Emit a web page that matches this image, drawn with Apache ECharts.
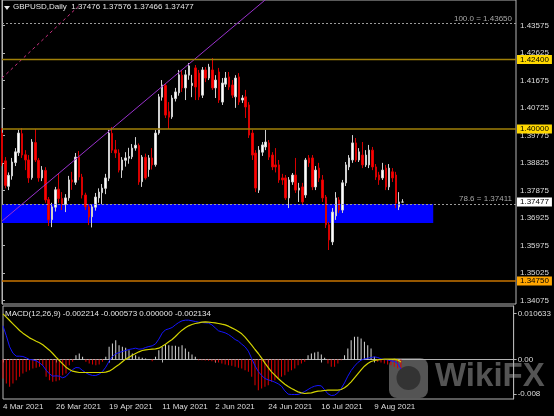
<!DOCTYPE html>
<html><head><meta charset="utf-8">
<script src="https://cdn.jsdelivr.net/npm/echarts@6/dist/echarts.min.js"></script>
<style>html,body{margin:0;padding:0;background:#000;}#c{width:554px;height:416px;}</style>
</head><body><div id="c"></div>
<script>
// ---- data ----
const START_DATE = [2021, 2, 4];       // 4 Mar 2021 (first bar)
const TOTAL_SLOTS = 155;               // bars + empty space to the right
const LABEL_INDEXES = [0, 16, 32, 48, 64, 80, 96, 112];

const opens = [
1.3986,1.3890,1.3802,1.3838,1.3884,1.3918,1.3984,1.3911,1.3893,1.3832,
1.3953,1.3892,1.3831,1.3857,1.3756,1.3687,1.3730,1.3792,1.3760,1.3739,
1.3762,1.3824,1.3816,1.3903,1.3834,1.3772,1.3731,1.3697,1.3730,1.3762,
1.3780,1.3795,1.3830,1.3985,1.3928,1.3917,1.3858,1.3892,1.3899,1.3904,
1.3934,1.3943,1.3818,1.3902,1.3860,1.3900,1.3877,1.3986,1.4110,1.4150,
1.4060,1.4042,1.4105,1.4125,1.4186,1.4142,1.4186,1.4150,1.4211,1.4193,
1.4117,1.4204,1.4176,1.4204,1.4142,1.4197,1.4093,1.4155,1.4180,1.4152,
1.4111,1.4180,1.4100,1.4111,1.4083,1.3986,1.3917,1.3789,1.3920,1.3938,
1.3952,1.3910,1.3876,1.3876,1.3831,1.3831,1.3762,1.3817,1.3841,1.3789,
1.3800,1.3772,1.3900,1.3900,1.3800,1.3865,1.3824,1.3765,1.3669,1.3610,
1.3700,1.3755,1.3720,1.3814,1.3869,1.3893,1.3952,1.3893,1.3910,1.3876,
1.3876,1.3927,1.3869,1.3841,1.3831,1.3865,1.3800,1.3852,1.3841,1.3731,
1.37476];
const highs = [
1.4003,1.3903,1.3850,1.3900,1.3934,1.3997,1.4003,1.3927,1.3910,1.3965,
1.4000,1.3900,1.3872,1.3868,1.3765,1.3745,1.3800,1.3845,1.3782,1.3775,
1.3838,1.3852,1.3917,1.3924,1.3845,1.3780,1.3740,1.3740,1.3779,1.3795,
1.3810,1.3845,1.3997,1.4007,1.3962,1.3930,1.3903,1.3920,1.3935,1.3948,
1.3972,1.3950,1.3910,1.3915,1.3910,1.3934,1.3997,1.4121,1.4169,1.4156,
1.4093,1.4117,1.4142,1.4204,1.4204,1.4204,1.4228,1.4187,1.4221,1.4204,
1.4214,1.4214,1.4225,1.4245,1.4186,1.4211,1.4176,1.4197,1.4197,1.4169,
1.4186,1.4193,1.4117,1.4135,1.4093,1.3997,1.3927,1.3941,1.3955,1.3997,
1.3962,1.3920,1.3934,1.3893,1.3845,1.3841,1.3834,1.3848,1.3900,1.3814,
1.3814,1.3900,1.3910,1.3910,1.3872,1.3883,1.3841,1.3772,1.3679,1.3727,
1.3782,1.3765,1.3824,1.3886,1.3910,1.3979,1.3969,1.3934,1.3955,1.3927,
1.3945,1.3938,1.3879,1.3852,1.3883,1.3876,1.3879,1.3865,1.3852,1.3782,
1.37576];
const lows = [
1.3872,1.3795,1.3789,1.3825,1.3872,1.3907,1.3900,1.3858,1.3814,1.3825,
1.3886,1.3818,1.3820,1.3745,1.3665,1.3661,1.3715,1.3745,1.3720,1.3713,
1.3752,1.3790,1.3807,1.3823,1.3760,1.3720,1.3668,1.3660,1.3718,1.3745,
1.3740,1.3775,1.3820,1.3917,1.3900,1.3850,1.3831,1.3870,1.3880,1.3896,
1.3925,1.3807,1.3800,1.3825,1.3835,1.3860,1.3870,1.3980,1.4098,1.4038,
1.4000,1.4035,1.4095,1.4115,1.4128,1.4100,1.4170,1.4110,1.4100,1.4100,
1.4107,1.4162,1.4169,1.4135,1.4107,1.4090,1.4083,1.4145,1.4135,1.4107,
1.4073,1.4083,1.4090,1.4038,1.3969,1.3893,1.3782,1.3779,1.3907,1.3927,
1.3893,1.3858,1.3850,1.3814,1.3807,1.3755,1.3727,1.3807,1.3779,1.3748,
1.3737,1.3762,1.3869,1.3789,1.3789,1.3817,1.3748,1.3658,1.3582,1.3599,
1.3686,1.3710,1.3710,1.3803,1.3858,1.3883,1.3886,1.3886,1.3865,1.3869,
1.3865,1.3858,1.3824,1.3807,1.3824,1.3789,1.3789,1.3817,1.3727,1.3720,
1.37466];
const closes = [
1.3883,1.3805,1.3840,1.3886,1.3921,1.3986,1.3910,1.3893,1.3831,1.3955,
1.3893,1.3831,1.3858,1.3755,1.3686,1.3731,1.3790,1.3760,1.3740,1.3762,
1.3824,1.3817,1.3903,1.3834,1.3772,1.3731,1.3696,1.3731,1.3765,1.3782,
1.3796,1.3831,1.3986,1.3927,1.3917,1.3858,1.3893,1.3900,1.3905,1.3934,
1.3944,1.3817,1.3903,1.3831,1.3900,1.3876,1.3986,1.4111,1.4152,1.4048,
1.4041,1.4107,1.4128,1.4187,1.4142,1.4187,1.4218,1.4158,1.4145,1.4111,
1.4204,1.4176,1.4214,1.4142,1.4169,1.4100,1.4159,1.4176,1.4145,1.4117,
1.4176,1.4093,1.4107,1.4076,1.3979,1.3910,1.3796,1.3927,1.3945,1.3955,
1.3903,1.3869,1.3869,1.3824,1.3824,1.3762,1.3824,1.3841,1.3789,1.3796,
1.3748,1.3893,1.3883,1.3800,1.3858,1.3831,1.3762,1.3669,1.3617,1.3713,
1.3762,1.3720,1.3814,1.3876,1.3900,1.3952,1.3893,1.3921,1.3876,1.3910,
1.3927,1.3869,1.3834,1.3824,1.3858,1.3800,1.3865,1.3831,1.3744,1.3748,
1.37477];

const macdMain = [
0.00781,0.00549,0.00294,0.00147,0.00077,0.00077,0.00070,0.00039,0.00000,-0.00008,
-0.00031,-0.00077,-0.00139,-0.00247,-0.00332,-0.00386,-0.00379,-0.00386,-0.00425,-0.00394,
-0.00309,-0.00232,-0.00186,-0.00193,-0.00255,-0.00309,-0.00348,-0.00371,-0.00371,-0.00340,
-0.00278,-0.00178,-0.00039,0.00070,0.00131,0.00162,0.00186,0.00209,0.00232,0.00247,
0.00263,0.00240,0.00247,0.00278,0.00301,0.00317,0.00363,0.00472,0.00611,0.00688,
0.00711,0.00742,0.00804,0.00858,0.00897,0.00912,0.00912,0.00897,0.00881,0.00866,
0.00858,0.00850,0.00843,0.00804,0.00734,0.00665,0.00642,0.00618,0.00580,0.00526,
0.00464,0.00425,0.00356,0.00294,0.00193,0.00023,-0.00147,-0.00278,-0.00371,-0.00441,
-0.00472,-0.00495,-0.00526,-0.00564,-0.00618,-0.00727,-0.00804,-0.00812,-0.00812,-0.00812,
-0.00781,-0.00742,-0.00696,-0.00649,-0.00618,-0.00603,-0.00611,-0.00703,-0.00796,-0.00835,
-0.00827,-0.00773,-0.00673,-0.00541,-0.00386,-0.00255,-0.00155,-0.00070,-0.00015,0.00015,
0.00031,0.00046,0.00062,0.00046,0.00015,0.00000,-0.00008,-0.00031,-0.00046,-0.00085,
-0.00221];
const macdSignal = [
0.01059,0.00982,0.00904,0.00827,0.00750,0.00673,0.00611,0.00557,0.00502,0.00464,
0.00425,0.00387,0.00340,0.00278,0.00216,0.00139,0.00054,-0.00023,-0.00100,-0.00178,
-0.00232,-0.00271,-0.00286,-0.00301,-0.00301,-0.00301,-0.00301,-0.00301,-0.00301,-0.00301,
-0.00301,-0.00294,-0.00271,-0.00224,-0.00170,-0.00116,-0.00054,0.00008,0.00054,0.00100,
0.00139,0.00178,0.00209,0.00224,0.00232,0.00240,0.00247,0.00263,0.00309,0.00356,
0.00410,0.00464,0.00533,0.00611,0.00680,0.00734,0.00781,0.00812,0.00835,0.00850,
0.00866,0.00874,0.00866,0.00858,0.00850,0.00835,0.00819,0.00804,0.00773,0.00734,
0.00696,0.00649,0.00595,0.00518,0.00425,0.00332,0.00232,0.00139,0.00031,-0.00085,
-0.00186,-0.00286,-0.00363,-0.00441,-0.00510,-0.00572,-0.00626,-0.00673,-0.00711,-0.00750,
-0.00773,-0.00789,-0.00781,-0.00773,-0.00750,-0.00734,-0.00727,-0.00719,-0.00711,-0.00711,
-0.00711,-0.00711,-0.00696,-0.00657,-0.00595,-0.00518,-0.00425,-0.00332,-0.00240,-0.00155,
-0.00093,-0.00046,-0.00023,-0.00008,0.00000,0.00008,0.00008,0.00008,0.00008,-0.00008,
-0.00057];
const macdHist = [
-0.00441,-0.00557,-0.00634,-0.00557,-0.00479,-0.00402,-0.00325,-0.00286,-0.00247,-0.00209,
-0.00193,-0.00170,-0.00147,-0.00402,-0.00479,-0.00518,-0.00502,-0.00479,-0.00363,-0.00325,
-0.00131,-0.00054,0.00100,0.00139,0.00062,-0.00054,-0.00093,-0.00116,-0.00131,-0.00116,
-0.00054,0.00062,0.00294,0.00371,0.00448,0.00332,0.00294,0.00271,0.00216,0.00139,
0.00100,0.00062,0.00039,0.00023,0.00008,-0.00039,0.00062,0.00216,0.00294,0.00348,
0.00332,0.00317,0.00317,0.00294,0.00332,0.00255,0.00178,0.00116,0.00062,-0.00015,
-0.00015,-0.00023,-0.00031,-0.00039,-0.00054,-0.00070,-0.00093,-0.00116,-0.00131,-0.00147,
-0.00170,-0.00193,-0.00209,-0.00247,-0.00286,-0.00402,-0.00595,-0.00711,-0.00673,-0.00634,
-0.00595,-0.00518,-0.00479,-0.00441,-0.00402,-0.00363,-0.00286,-0.00247,-0.00209,-0.00131,
-0.00093,-0.00054,0.00100,0.00139,0.00162,0.00178,0.00116,0.00039,-0.00093,-0.00170,
-0.00170,-0.00093,-0.00015,0.00100,0.00255,0.00448,0.00526,0.00526,0.00487,0.00410,
0.00332,0.00255,0.00062,-0.00054,-0.00070,-0.00093,-0.00116,-0.00131,-0.00170,-0.00209,
-0.00213];

const priceTicks = [1.43575,1.42625,1.41675,1.40725,1.39775,1.38825,1.37875,1.36925,1.35975,1.35025,1.34075];
const macdTicks = [0.010633, 0, -0.008];
const macdTickLabels = ['0.010633', '0.00', '-0.008'];

const levelValues = [1.42400, 1.40000, 1.34750];
const levelLineColors = ['#a08008', '#a08008', '#c87400'];
const levelBoxColors = ['#ffd800', '#ffd800', '#ffa500'];
const fibValues = [1.43650, 1.37411];
const fibLabels = ['100.0 = 1.43650', '78.6 = 1.37411'];
const bidValue = 1.37477;
const zoneTop = 1.37411, zoneBottom = 1.3675, zoneStartIdx = 0, zoneEndIdx = 129.2;
const trendUp = [[0, 1.3682], [80, 1.4457]];
const trendDashed = [[0, 1.4176], [23, 1.4425]];

const TITLE = 'GBPUSD,Daily  1.37476 1.37576 1.37466 1.37477';
const MACD_TITLE = 'MACD(12,26,9) -0.002214 -0.000573 0.000000 -0.002134';

// ---- build ----
const MONTHS = ['Jan','Feb','Mar','Apr','May','Jun','Jul','Aug','Sep','Oct','Nov','Dec'];
const dates = [];
(function () {
  const d = new Date(Date.UTC(START_DATE[0], START_DATE[1], START_DATE[2]));
  while (dates.length < TOTAL_SLOTS) {
    const wd = d.getUTCDay();
    if (wd !== 0 && wd !== 6) dates.push(d.getUTCDate() + ' ' + MONTHS[d.getUTCMonth()] + ' ' + d.getUTCFullYear());
    d.setUTCDate(d.getUTCDate() + 1);
  }
})();
const candles = opens.map((o, i) => [o, closes[i], lows[i], highs[i]]);

const FONT = "'Liberation Sans', Arial, sans-serif";
const TXT = '#dcdcdc';
const FRAME = '#b4b4b4';
const showIdx = (i) => LABEL_INDEXES.indexOf(i) >= 0;

const boxLabelStyle = (bg) => ({color: '#000', backgroundColor: bg, padding: [1, 3, 0, 3],
  fontSize: 8, fontFamily: FONT, lineHeight: 8});

// level lines drawn as one line series each (two points spanning the x range)
const levelSeries = levelValues.map((v, k) => ({
  type: 'line', name: 'level' + k, xAxisIndex: 2, yAxisIndex: 0, z: 8, zlevel: 0, silent: true,
  data: [[0, v], [TOTAL_SLOTS - 1, v]], showSymbol: false, symbol: 'none',
  itemStyle: {color: levelLineColors[k]},
  lineStyle: {color: levelLineColors[k], width: 1.5, opacity: 1},
  emphasis: {disabled: true},
  endLabel: Object.assign({show: true, distance: 1, formatter: v.toFixed(5)}, boxLabelStyle(levelBoxColors[k]))
}));

const chart = echarts.init(document.getElementById('c'), null, {renderer: 'canvas'});

const option = {
  backgroundColor: '#000000',
  animation: false,
  title: [
    {text: TITLE, left: 13, top: 3, padding: 0,
     textStyle: {color: '#e6e6e6', fontSize: 8, fontWeight: 'normal', fontFamily: FONT}},
    {text: MACD_TITLE, left: 5, top: 310, padding: 0,
     textStyle: {color: '#e6e6e6', fontSize: 8, fontWeight: 'normal', fontFamily: FONT}}
  ],
  grid: [
    {left: 2, right: 38, top: 0, height: 304, show: true, borderColor: FRAME, borderWidth: 1, backgroundColor: 'transparent'},
    {left: 2, right: 38, top: 306, height: 93, show: true, borderColor: FRAME, borderWidth: 1, backgroundColor: 'transparent'}
  ],
  xAxis: [
    {type: 'category', gridIndex: 0, data: dates, boundaryGap: false,
     axisLine: {show: false}, axisTick: {show: false}, axisLabel: {show: false}, splitLine: {show: false}},
    {type: 'category', gridIndex: 1, data: dates, boundaryGap: false,
     axisLine: {show: true, lineStyle: {color: FRAME}},
     axisTick: {show: true, interval: showIdx, length: 3, lineStyle: {color: FRAME}},
     axisLabel: {show: true, interval: showIdx, align: 'left', color: TXT, fontSize: 8, fontFamily: FONT, margin: 4},
     splitLine: {show: false}},
    {type: 'value', gridIndex: 0, min: 0, max: TOTAL_SLOTS - 1, show: false, splitLine: {show: false}}
  ],
  yAxis: [
    {type: 'value', gridIndex: 0, position: 'right', min: 1.339551, max: 1.444560, scale: true,
     axisLine: {show: true, lineStyle: {color: FRAME}},
     axisTick: {show: true, customValues: priceTicks, length: 3, inside: false, lineStyle: {color: FRAME}},
     axisLabel: {show: true, customValues: priceTicks, formatter: (v) => v.toFixed(5), color: TXT, fontSize: 8, fontFamily: FONT, margin: 4},
     splitLine: {show: false}},
    {type: 'value', gridIndex: 1, position: 'right', min: -0.00916, max: 0.012407,
     axisLine: {show: true, lineStyle: {color: FRAME}},
     axisTick: {show: true, customValues: macdTicks, length: 3, lineStyle: {color: FRAME}},
     axisLabel: {show: true, customValues: macdTicks,
       formatter: (v) => { const k = macdTicks.findIndex(t => Math.abs(t - v) < 1e-7); return k >= 0 ? macdTickLabels[k] : ''; },
       color: TXT, fontSize: 8, fontFamily: FONT, margin: 4},
     splitLine: {show: false}}
  ],
  series: [
    {type: 'line', name: 'zone', xAxisIndex: 2, yAxisIndex: 0, z: 1, data: [],
     showSymbol: false, silent: true,
     markArea: {silent: true, precision: 6, itemStyle: {color: '#0000ff', opacity: 1},
       data: [[{xAxis: zoneStartIdx, yAxis: zoneTop}, {xAxis: zoneEndIdx, yAxis: zoneBottom}]]}},
    {type: 'candlestick', name: 'GBPUSD', xAxisIndex: 0, yAxisIndex: 0, z: 3, data: candles,
     barWidth: 2,
     itemStyle: {color: '#ffffff', color0: '#ff0000', borderColor: '#d0d0d0', borderColor0: '#d80000', borderWidth: 1}},
    {type: 'line', name: 'fibo', xAxisIndex: 2, yAxisIndex: 0, z: 4, data: [], silent: true,
     markLine: {silent: true, precision: 6, symbol: ['none', 'none'], animation: false,
       lineStyle: {color: '#9a9a9a', width: 1, type: [2, 2]},
       label: {show: true, position: 'insideEndTop', distance: 1, color: '#a8a8a8', fontSize: 8, fontFamily: FONT,
         padding: [0, 3, 0, 0], formatter: (p) => fibLabels[fibValues.indexOf(p.value)] || ''},
       data: fibValues.map(v => ({yAxis: v}))}},
    {type: 'line', name: 'bid', xAxisIndex: 2, yAxisIndex: 0, z: 6, data: [], silent: true,
     markLine: {silent: true, precision: 6, symbol: ['none', 'none'], animation: false,
       lineStyle: {color: 'rgba(0,0,0,0)', width: 0},
       label: Object.assign({show: true, position: 'end', distance: 1, formatter: bidValue.toFixed(5)}, boxLabelStyle('#ffffff')),
       data: [{yAxis: bidValue}]}},
    {type: 'line', name: 'trend', xAxisIndex: 2, yAxisIndex: 0, z: 5, data: trendUp,
     showSymbol: false, silent: true, lineStyle: {color: '#9932cc', width: 1}},
    {type: 'line', name: 'trend2', xAxisIndex: 2, yAxisIndex: 0, z: 5, data: trendDashed,
     showSymbol: false, silent: true, lineStyle: {color: '#c8307f', width: 1, type: [3, 3]}},
    ...levelSeries,
    {type: 'bar', name: 'hist', xAxisIndex: 1, yAxisIndex: 1, data: macdHist, barWidth: 1,
     itemStyle: {color: (p) => p.value >= 0 ? '#d8d8d8' : '#e00000'}},
    {type: 'line', name: 'macd', xAxisIndex: 1, yAxisIndex: 1, data: macdMain, showSymbol: false,
     lineStyle: {color: '#1414ff', width: 1}},
    {type: 'line', name: 'signal', xAxisIndex: 1, yAxisIndex: 1, data: macdSignal, showSymbol: false,
     lineStyle: {color: '#d4d400', width: 1.2}}
  ],
  graphic: [
    {type: 'polygon', shape: {points: [[4, 6], [10, 6], [7, 10]]}, style: {fill: '#e6e6e6'}, z: 10},
    {type: 'group', left: 389, top: 358, z: 20, children: [
      {type: 'rect', shape: {x: 0, y: 0, width: 39, height: 40, r: 8}, style: {fill: 'rgba(140,140,140,0.6)'}},
      {type: 'circle', shape: {cx: 19.5, cy: 20, r: 12}, style: {fill: 'rgba(30,30,30,0.6)'}},
      {type: 'text', x: 46, y: 2, style: {text: 'WikiFX', fill: 'rgba(140,140,140,0.6)', font: "bold 33px 'Liberation Sans', Arial, sans-serif"}}
    ]}
  ]
};
chart.setOption(option);
</script>
</body></html>
